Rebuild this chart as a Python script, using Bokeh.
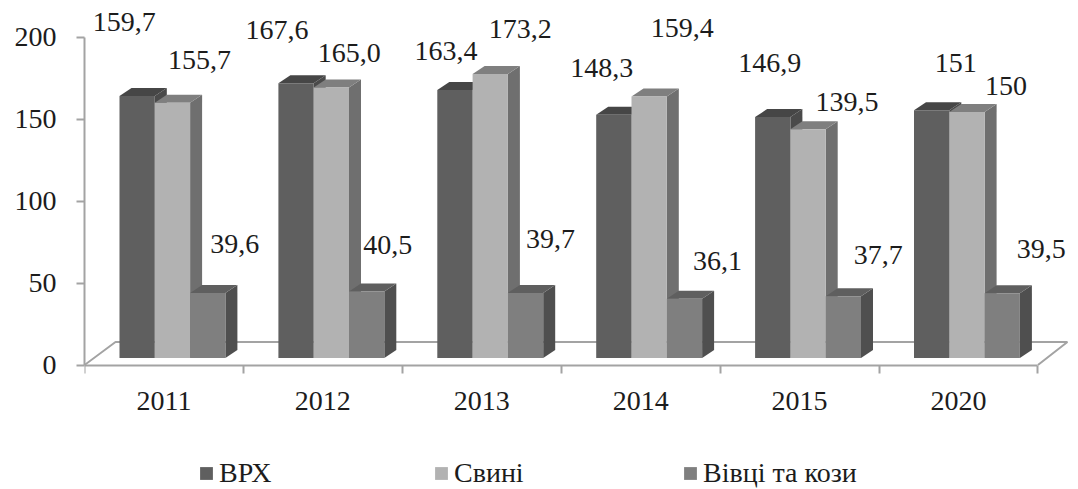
from bokeh.plotting import figure
from bokeh.models import ColumnDataSource, FixedTicker, Legend, LegendItem, Range1d
from bokeh.embed import file_html
from bokeh.resources import INLINE

years = ["2011", "2012", "2013", "2014", "2015", "2020"]
series_names = ["ВРХ", "Свині", "Вівці та кози"]
vrh = [159.7, 167.6, 163.4, 148.3, 146.9, 151]
svyni = [155.7, 165.0, 173.2, 159.4, 139.5, 150]
vivtsi = [39.6, 40.5, 39.7, 36.1, 37.7, 39.5]
vrh_text = ["159,7", "167,6", "163,4", "148,3", "146,9", "151"]
svyni_text = ["155,7", "165,0", "173,2", "159,4", "139,5", "150"]
vivtsi_text = ["39,6", "40,5", "39,7", "36,1", "37,7", "39,5"]

label_dx = [[-13, -19, -9, -12, -3, 24], [27, 18, 30, 33, 39, 39], [27, 21, 25, 33, 35, 39]]
label_dy = [[-74, -53, -39, -47, -54, -47], [-43, -34, -45, -69, -27, -26], [-49, -47, -54, -38, -41, -44]]
front = ["#5f5f5f", "#b2b2b2", "#7f7f7f"]
top = ["#464646", "#7f7f7f", "#5f5f5f"]
side = ["#4a4a4a", "#6f6f6f", "#4f4f4f"]

W, H = 1078, 489
LEFT, BASE = 84, 364.5
PX_X, PX_Y = 158.9, 1.64
FONT = "Liberation Serif"
FS = "28px"
INK = "#1c1c1c"
AXIS = "#a3a3a3"

p = figure(width=W, height=H, output_backend="svg", toolbar_location=None,
           margin=0,
           x_range=Range1d(0, (W - LEFT) / PX_X),
           y_range=Range1d(-(H - BASE) / PX_Y, BASE / PX_Y),
           min_border_left=LEFT, min_border_right=0, min_border_top=0,
           min_border_bottom=0, outline_line_color=None,
           background_fill_color="white", border_fill_color="white")
p.grid.visible = False

bw = 35.3 / PX_X
start = 35 / PX_X
ddx, ddy = 12 / PX_X, 8 / PX_Y
base = 7 / PX_Y
fdx, fdy = 31 / PX_X, 23 / PX_Y

# floor
p.line([0, fdx, 6 + fdx - 1.5 / PX_X, 6], [0, fdy, fdy, 0], line_color=AXIS, line_width=2)

renderers = []
texts = [vrh_text, svyni_text, vivtsi_text]
for s, vals in enumerate([vrh, svyni, vivtsi]):
    x0 = [i + start + s * bw for i in range(len(vals))]
    x1 = [x + bw for x in x0]
    tops = [base + v for v in vals]
    p.patches([[b, b + ddx, b + ddx, b] for b in x1],
              [[base, base + ddy, t + ddy, t] for t in tops],
              fill_color=side[s], line_color=None)
    p.patches([[a, a + ddx, b + ddx, b] for a, b in zip(x0, x1)],
              [[t, t + ddy, t + ddy, t] for t in tops],
              fill_color=top[s], line_color=None)
    r = p.quad(left=x0, right=x1, bottom=base, top=tops, fill_color=front[s], line_color=None)
    renderers.append(r)

for s, vals in enumerate([vrh, svyni, vivtsi]):
    src = ColumnDataSource(dict(
        x=[i + start + (s + 0.5) * bw for i in range(len(vals))],
        y=[base + v for v in vals], t=texts[s], dx=label_dx[s], dy=label_dy[s]))
    p.text("x", "y", text="t", source=src, x_offset="dx", y_offset="dy",
           text_align="center", text_baseline="middle", text_font={"value": FONT},
           text_font_size={"value": FS}, text_color=INK)

ya = p.yaxis[0]
ya.ticker = FixedTicker(ticks=[0, 50, 100, 150, 200])
ya.bounds = (0, 200)
ya.axis_line_color = AXIS
ya.axis_line_width = 2
ya.major_tick_line_color = AXIS
ya.major_tick_line_width = 2
ya.major_tick_in = 0
ya.major_tick_out = 8
ya.minor_tick_line_color = None
ya.major_label_standoff = 20
ya.major_label_text_font = FONT
ya.major_label_text_font_size = FS
ya.major_label_text_color = INK

xa = p.xaxis[0]
centers = [i + 0.5 for i in range(len(years))]
xa.fixed_location = 0
xa.ticker = FixedTicker(ticks=centers, minor_ticks=list(range(len(years) + 1)))
xa.major_label_overrides = dict(zip(centers, years))
xa.bounds = (0, len(years))
xa.axis_line_color = AXIS
xa.axis_line_width = 2
xa.major_tick_line_color = None
xa.minor_tick_line_color = AXIS
xa.minor_tick_line_width = 2
xa.minor_tick_in = 0
xa.minor_tick_out = 8
xa.major_label_standoff = 19
xa.major_label_text_font = FONT
xa.major_label_text_font_size = FS
xa.major_label_text_color = INK

for name, r, lx in zip(series_names, renderers, [114, 349, 598]):
    lg = Legend(items=[LegendItem(label=name, renderers=[r])], location=(lx, 0),
                orientation="horizontal", border_line_color=None, background_fill_alpha=0,
                margin=0, padding=0, glyph_width=16, glyph_height=16, label_standoff=5,
                label_text_font=FONT, label_text_font_size=FS, label_text_color=INK,
                label_height=16)
    p.add_layout(lg, "center")

open("out.html", "w").write(file_html(p, INLINE))
